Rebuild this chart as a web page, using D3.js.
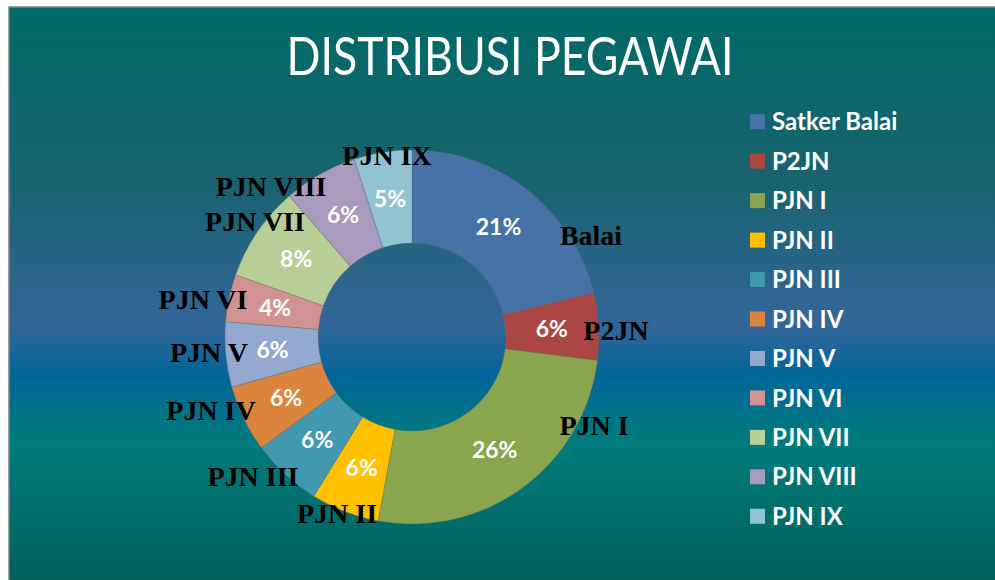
<!DOCTYPE html>
<html>
<head>
<meta charset="utf-8">
<script src="https://cdn.jsdelivr.net/npm/d3@7"></script>
<style>
  html, body { margin: 0; padding: 0; background: #fff; }
  svg { display: block; }
</style>
</head>
<body>
<script>
// data (share of staff, in percent)
const categories = ['Satker Balai', 'P2JN', 'PJN I', 'PJN II', 'PJN III', 'PJN IV',
  'PJN V', 'PJN VI', 'PJN VII', 'PJN VIII', 'PJN IX'];
const sliceNames = ['Balai', 'P2JN', 'PJN I', 'PJN II', 'PJN III', 'PJN IV',
  'PJN V', 'PJN VI', 'PJN VII', 'PJN VIII', 'PJN IX'];
const values = [21.2, 5.8, 25.9, 5.9, 6.1, 5.8, 5.6, 4.1, 8.2, 6.4, 5.0];
const colors = ['#4572a7', '#aa4643', '#89a54e', '#ffc000', '#4198af', '#db843d',
  '#93a9cf', '#d19392', '#b9cd96', '#a99bbd', '#92c3d3'];

// where the name labels sit, relative to the donut centre
const nameOffsets = [[179, -102], [204, -7], [182, 88], [-75, 176], [-159, 139], [-201, 73],
  [-203, 15], [-209, -38], [-157, -116], [-141, -151], [-25, -182]];

const W = 995, H = 580;
const cx = 412, cy = 337, rOuter = 187, rInner = 94;

const svg = d3.select('body').append('svg')
  .attr('width', W)
  .attr('height', H);

const defs = svg.append('defs');
const grad = defs.append('linearGradient')
  .attr('id', 'bg')
  .attr('gradientUnits', 'userSpaceOnUse')
  .attr('x1', 0).attr('y1', 7).attr('x2', 0).attr('y2', H);
[[0, '#006a66'], [0.3, '#18636f'], [0.556, '#336699'], [0.645, '#006699'], [0.76, '#007c7c'], [1, '#00615d']]
  .forEach(([o, c]) => grad.append('stop').attr('offset', o).attr('stop-color', c));

svg.append('rect')
  .attr('x', 9).attr('y', 7)
  .attr('width', W + 10).attr('height', H + 10)
  .attr('fill', 'url(#bg)')
  .attr('stroke', '#808080')
  .attr('stroke-width', 1.5);

svg.append('text')
  .attr('x', 510).attr('y', 75)
  .attr('text-anchor', 'middle')
  .attr('fill', '#fff')
  .attr('font-family', 'Lato, sans-serif')
  .attr('font-size', 52)
  .attr('textLength', 447)
  .attr('lengthAdjust', 'spacingAndGlyphs')
  .text('DISTRIBUSI PEGAWAI');

const pie = d3.pie().sort(null).value(d => d);
const arcs = pie(values);
const total = d3.sum(values);

const arc = d3.arc().innerRadius(rInner).outerRadius(rOuter);
const mid = d3.arc().innerRadius(140).outerRadius(140);

const g = svg.append('g').attr('transform', `translate(${cx},${cy})`);

g.selectAll('path')
  .data(arcs)
  .join('path')
  .attr('d', arc)
  .attr('fill', (d, i) => colors[i])
  .attr('stroke', 'rgba(110,110,110,0.6)')
  .attr('stroke-width', 0.6);

g.selectAll('text.pct')
  .data(arcs)
  .join('text')
  .attr('class', 'pct')
  .attr('transform', d => `translate(${mid.centroid(d)})`)
  .attr('text-anchor', 'middle')
  .attr('dy', '0.36em')
  .attr('fill', '#fff')
  .attr('font-family', 'Lato, sans-serif')
  .attr('font-weight', 'bold')
  .attr('font-size', 23)
  .text(d => Math.round(d.value / total * 100) + '%');

g.selectAll('text.name')
  .data(sliceNames)
  .join('text')
  .attr('class', 'name')
  .attr('x', (d, i) => nameOffsets[i][0])
  .attr('y', (d, i) => nameOffsets[i][1])
  .attr('text-anchor', 'middle')
  .attr('dy', '0.35em')
  .attr('fill', '#000')
  .attr('font-family', '"Liberation Serif", serif')
  .attr('font-weight', 'bold')
  .attr('font-size', 28)
  .text(d => d);

// legend
const y = d3.scaleBand().domain(categories).range([102, 536]);
const legend = svg.append('g');
const item = legend.selectAll('g')
  .data(categories)
  .join('g')
  .attr('transform', d => `translate(750,${y(d) + y.bandwidth() / 2})`);

item.append('rect')
  .attr('y', -7.5)
  .attr('width', 15).attr('height', 15)
  .attr('fill', (d, i) => colors[i]);

item.append('text')
  .attr('x', 22)
  .attr('dy', '0.36em')
  .attr('fill', '#fff')
  .attr('font-family', 'Lato, sans-serif')
  .attr('font-weight', 'bold')
  .attr('font-size', 24)
  .text(d => d);
</script>
</body>
</html>
